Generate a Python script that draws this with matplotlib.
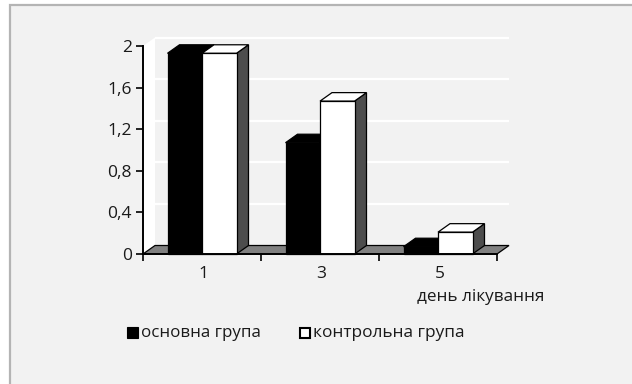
import matplotlib
matplotlib.use("Agg")
import matplotlib.pyplot as plt
from matplotlib.patches import Polygon, Rectangle

plt.rcParams['font.family'] = ['Open Sans', 'DejaVu Sans']

days = ["1", "3", "5"]
main_group = [1.93, 1.07, 0.07]
control_group = [1.93, 1.47, 0.21]
y_ticks = [0, 0.4, 0.8, 1.2, 1.6, 2]
y_labels = ["0", "0,4", "0,8", "1,2", "1,6", "2"]
series_names = ["основна група", "контрольна група"]
axis_title = "день лікування"

W, H = 632, 384
BG = "#f2f2f2"
TXT = "#1a1a1a"
fig = plt.figure(figsize=(W / 100, H / 100), dpi=100, facecolor="white")

# outer panel
bg = fig.add_axes([0, 0, 1, 1])
bg.set_xlim(0, W); bg.set_ylim(H, 0); bg.axis("off")
bg.add_patch(Rectangle((10, 4), W - 10, H - 4, facecolor=BG, edgecolor="none"))
bg.plot([10, 10, W], [H, 4.5, 4.5], color="#b4b4b4", lw=1.6, solid_joinstyle="miter")

L, R, T, B = 143, 497, 46, 254
ax = fig.add_axes([L / W, 1 - B / H, (R - L) / W, (B - T) / H])
ax.set_xlim(0, 3); ax.set_ylim(0, 2)
ax.patch.set_alpha(0)
for s in ("top", "right"):
    ax.spines[s].set_visible(False)
for s in ("left", "bottom"):
    ax.spines[s].set_linewidth(1.4)
    ax.spines[s].set_zorder(20)

dx = 12 / ((R - L) / 3)
dy = 8.5 / ((B - T) / 2)
bar_w = 34.5 / ((R - L) / 3)
ymax = y_ticks[-1]

def poly(pts, fc, ec="black", z=5, lw=0.9):
    ax.add_patch(Polygon(pts, closed=True, facecolor=fc, edgecolor=ec, linewidth=lw,
                         zorder=z, clip_on=False, joinstyle="miter"))

# left wall, back wall grid, floor
poly([(0, 0), (dx, dy), (dx, ymax + dy), (0, ymax)], "white", ec="none", z=1)
for v in y_ticks[1:]:
    ax.plot([dx, 3 + dx], [v + dy, v + dy], color="white", lw=1.6, zorder=1, clip_on=False,
            solid_capstyle="butt")
poly([(0, 0), (dx, dy), (3 + dx, dy), (3, 0)], "#808080", z=2)

def bar3d(x, v, front, top, side, z):
    poly([(x + bar_w, 0), (x + bar_w + dx, dy), (x + bar_w + dx, v + dy), (x + bar_w, v)], side, z=z)
    poly([(x, v), (x + dx, v + dy), (x + bar_w + dx, v + dy), (x + bar_w, v)], top, z=z)
    poly([(x, 0), (x, v), (x + bar_w, v), (x + bar_w, 0)], front, z=z + 0.1)

for i in range(len(days)):
    x0 = i + 0.5 - bar_w
    bar3d(x0, main_group[i], "black", "black", "black", 5 + i)
    bar3d(x0 + bar_w, control_group[i], "white", "white", "#4d4d4d", 5.5 + i)

ax.set_xticks([0, 1, 2, 3])
ax.set_xticklabels([])
ax.tick_params(axis="x", length=5, width=1.2, direction="out")
ax.set_yticks(y_ticks)
ax.set_yticklabels(y_labels, fontsize=12.5, color=TXT)
ax.tick_params(axis="y", length=5, width=1.2, direction="out", pad=3)
for i, d in enumerate(days):
    ax.annotate(d, (i + 0.5, 0), xytext=(1, -14.5), textcoords="offset points",
                ha="center", va="center", fontsize=12.5, color=TXT, annotation_clip=False)

bg.text(481, 297, axis_title, ha="center", va="center", fontsize=12.3, color=TXT, zorder=30)

# legend
bg.add_patch(Rectangle((127, 327), 11, 11, facecolor="black", edgecolor="black", lw=0.8))
bg.text(141, 333, series_names[0], ha="left", va="center", fontsize=12.2, color=TXT)
bg.add_patch(Rectangle((300, 328), 10, 10, facecolor="white", edgecolor="black", lw=1.5))
bg.text(313, 333, series_names[1], ha="left", va="center", fontsize=12.4, color=TXT)

fig.savefig("out.png", dpi=100, facecolor=fig.get_facecolor())
